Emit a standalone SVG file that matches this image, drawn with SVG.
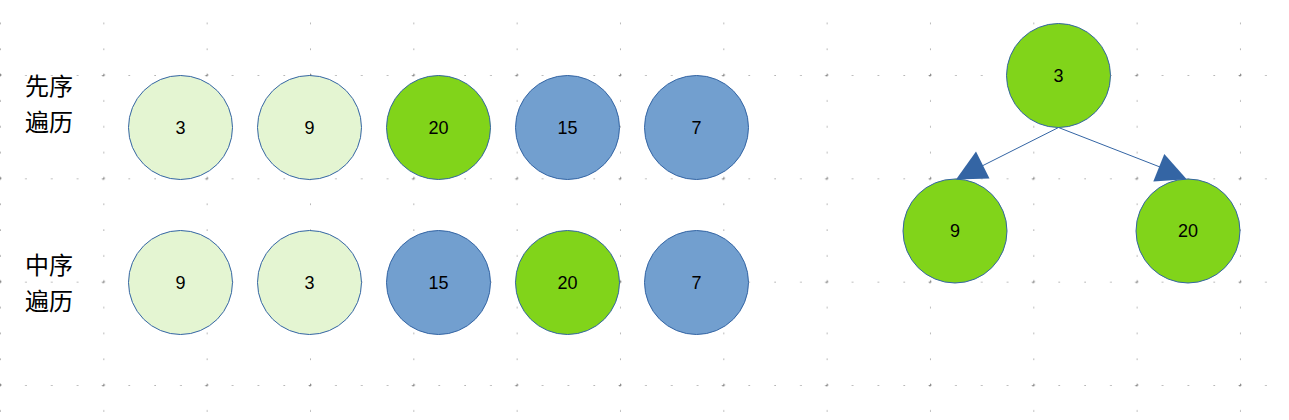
<svg xmlns="http://www.w3.org/2000/svg" width="1289" height="420" viewBox="0 0 1289 420">
<style>
.lg{fill:#e4f5d2;stroke:#3465a4;stroke-width:1}
.g{fill:#81d41a;stroke:#3465a4;stroke-width:1}
.b{fill:#729fcf;stroke:#3465a4;stroke-width:1}
.n{font-family:"Liberation Sans",Arial,sans-serif;font-size:18px;fill:#000;text-anchor:middle;dominant-baseline:central}
.lab{font-family:"Noto Sans CJK SC","Noto Sans",sans-serif;font-size:24px;fill:#000}
.ln{stroke:#3465a4;stroke-width:1;fill:none}
.ah{fill:#3465a4}
</style>
<defs>
<pattern id="grid" patternUnits="userSpaceOnUse" x="0" y="75" width="103.33" height="103.33">
<g fill="#666">
<rect x="-0.5" y="25.33" width="1.2" height="1.2"/>
<rect x="-0.5" y="51.17" width="1.2" height="1.2"/>
<rect x="-0.5" y="77" width="1.2" height="1.2"/>
<rect x="25.33" y="-0.5" width="1.2" height="1.2"/>
<rect x="51.17" y="-0.5" width="1.2" height="1.2"/>
<rect x="77" y="-0.5" width="1.2" height="1.2"/>
<rect x="-1.5" y="-0.5" width="3" height="1"/>
<rect x="-0.5" y="-1.5" width="1" height="3"/>
<rect x="101.83" y="-0.5" width="3" height="1"/>
<rect x="102.83" y="-1.5" width="1" height="3"/>
<rect x="-1.5" y="102.83" width="3" height="1"/>
<rect x="-0.5" y="101.83" width="1" height="3"/>
</g>
</pattern>
</defs>
<rect width="1289" height="420" fill="#fff"/>
<rect width="1289" height="420" fill="url(#grid)"/>
<g id="labels">
<text class="lab" x="25" y="95">先序</text>
<text class="lab" x="25" y="131">遍历</text>
<text class="lab" x="25" y="274">中序</text>
<text class="lab" x="25" y="310">遍历</text>
</g>
<g id="pre1"><circle class="lg" cx="180.5" cy="127.5" r="52"/><text class="n" x="180.5" y="127.5">3</text></g>
<g id="pre2"><circle class="lg" cx="309.5" cy="127.5" r="52"/><text class="n" x="309.5" y="127.5">9</text></g>
<g id="pre3"><circle class="g" cx="438.5" cy="127.5" r="52"/><text class="n" x="438.5" y="127.5">20</text></g>
<g id="pre4"><circle class="b" cx="567.5" cy="127.5" r="52"/><text class="n" x="567.5" y="127.5">15</text></g>
<g id="pre5"><circle class="b" cx="696.5" cy="127.5" r="52"/><text class="n" x="696.5" y="127.5">7</text></g>
<g id="in1"><circle class="lg" cx="180.5" cy="282.5" r="52"/><text class="n" x="180.5" y="282.5">9</text></g>
<g id="in2"><circle class="lg" cx="309.5" cy="282.5" r="52"/><text class="n" x="309.5" y="282.5">3</text></g>
<g id="in3"><circle class="b" cx="438.5" cy="282.5" r="52"/><text class="n" x="438.5" y="282.5">15</text></g>
<g id="in4"><circle class="g" cx="567.5" cy="282.5" r="52"/><text class="n" x="567.5" y="282.5">20</text></g>
<g id="in5"><circle class="b" cx="696.5" cy="282.5" r="52"/><text class="n" x="696.5" y="282.5">7</text></g>
<g id="t3"><circle class="g" cx="1058.5" cy="75.5" r="52"/><text class="n" x="1058.5" y="75.5">3</text></g>
<g id="t9"><circle class="g" cx="955" cy="231" r="52"/><text class="n" x="955" y="231">9</text></g>
<g id="t20"><circle class="g" cx="1188" cy="231" r="52"/><text class="n" x="1188" y="231">20</text></g>
<g id="connectors">
<line class="ln" x1="1058.5" y1="127.5" x2="982" y2="166"/>
<polygon class="ah" points="956,179.5 989.5,178.5 976,151.5"/>
<line class="ln" x1="1058.5" y1="127.5" x2="1160" y2="167"/>
<polygon class="ah" points="1153.3,181.5 1186.7,179.3 1164.3,154"/>
</g>
</svg>
